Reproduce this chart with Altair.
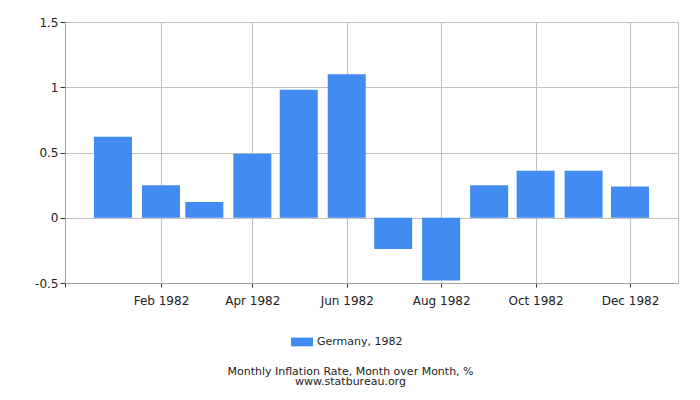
import altair as alt
import pandas as pd

months = ["1982-01-01", "1982-02-01", "1982-03-01", "1982-04-01", "1982-05-01", "1982-06-01",
          "1982-07-01", "1982-08-01", "1982-09-01", "1982-10-01", "1982-11-01", "1982-12-01"]
values = [0.62, 0.25, 0.12, 0.49, 0.98, 1.10, -0.24, -0.48, 0.25, 0.36, 0.36, 0.24]
series = "Germany, 1982"

df = pd.DataFrame({"date": months, "value": values, "series": [series] * len(months)})

tick_months = [12, 2, 4, 6, 8, 10, 12]
tick_years = [1981, 1982, 1982, 1982, 1982, 1982, 1982]
tick_vals = [alt.DateTime(year=y, month=m, date=1, utc=True) for y, m in zip(tick_years, tick_months)]

FONT = "DejaVu Sans"

chart = alt.Chart(df).mark_bar(width=38, color="#428BF0").encode(
    x=alt.X("date:T",
            scale=alt.Scale(type="utc", padding=0,
                            domain=[alt.DateTime(year=1981, month=12, date=1, utc=True),
                                    alt.DateTime(year=1983, month=1, date=1, utc=True)]),
            axis=alt.Axis(values=tick_vals, format="%b %Y", formatType="utc",
                          labelExpr="utcyear(datum.value) == 1981 ? '' : utcFormat(datum.value, '%b %Y')",
                          title=None, grid=True, gridColor="#c0c0c0", domainColor="#a0a0a0",
                          tickColor="#333333", tickSize=4, labelPadding=8,
                          labelFont=FONT, labelFontSize=12, labelColor="#222222")),
    y=alt.Y("value:Q",
            scale=alt.Scale(domain=[-0.5, 1.5], nice=False, zero=False),
            axis=alt.Axis(values=[-0.5, 0, 0.5, 1, 1.5], labelExpr="datum.value + ''",
                          title=None, grid=True, gridColor="#c0c0c0", domainColor="#a0a0a0",
                          tickColor="#333333", tickSize=5, labelPadding=2,
                          labelFont=FONT, labelFontSize=12, labelColor="#222222")),
    color=alt.Color("series:N", scale=alt.Scale(range=["#428BF0"]),
                    legend=alt.Legend(title=None, orient="none", legendX=226, legendY=309,
                                      symbolType="M-1,-0.4L1,-0.4L1,0.4L-1,0.4Z", symbolSize=484,
                                      symbolStrokeWidth=0, labelFont=FONT, labelFontSize=11,
                                      labelColor="#222222", labelOffset=4)),
).properties(
    width=613, height=261,
    padding={"left": 57, "top": 14, "right": 14, "bottom": 110},
    autosize=alt.AutoSizeParams(type="none"),
    title=alt.TitleParams(text=["Monthly Inflation Rate, Month over Month, %", "www.statbureau.org"],
                          orient="bottom", anchor="middle", font=FONT, fontSize=11,
                          fontWeight="normal", color="#222222", lineHeight=10, offset=19, dx=-21),
).configure_view(stroke="#c0c0c0")

chart.save("out.html", embed_options={"renderer": "svg", "actions": False})
